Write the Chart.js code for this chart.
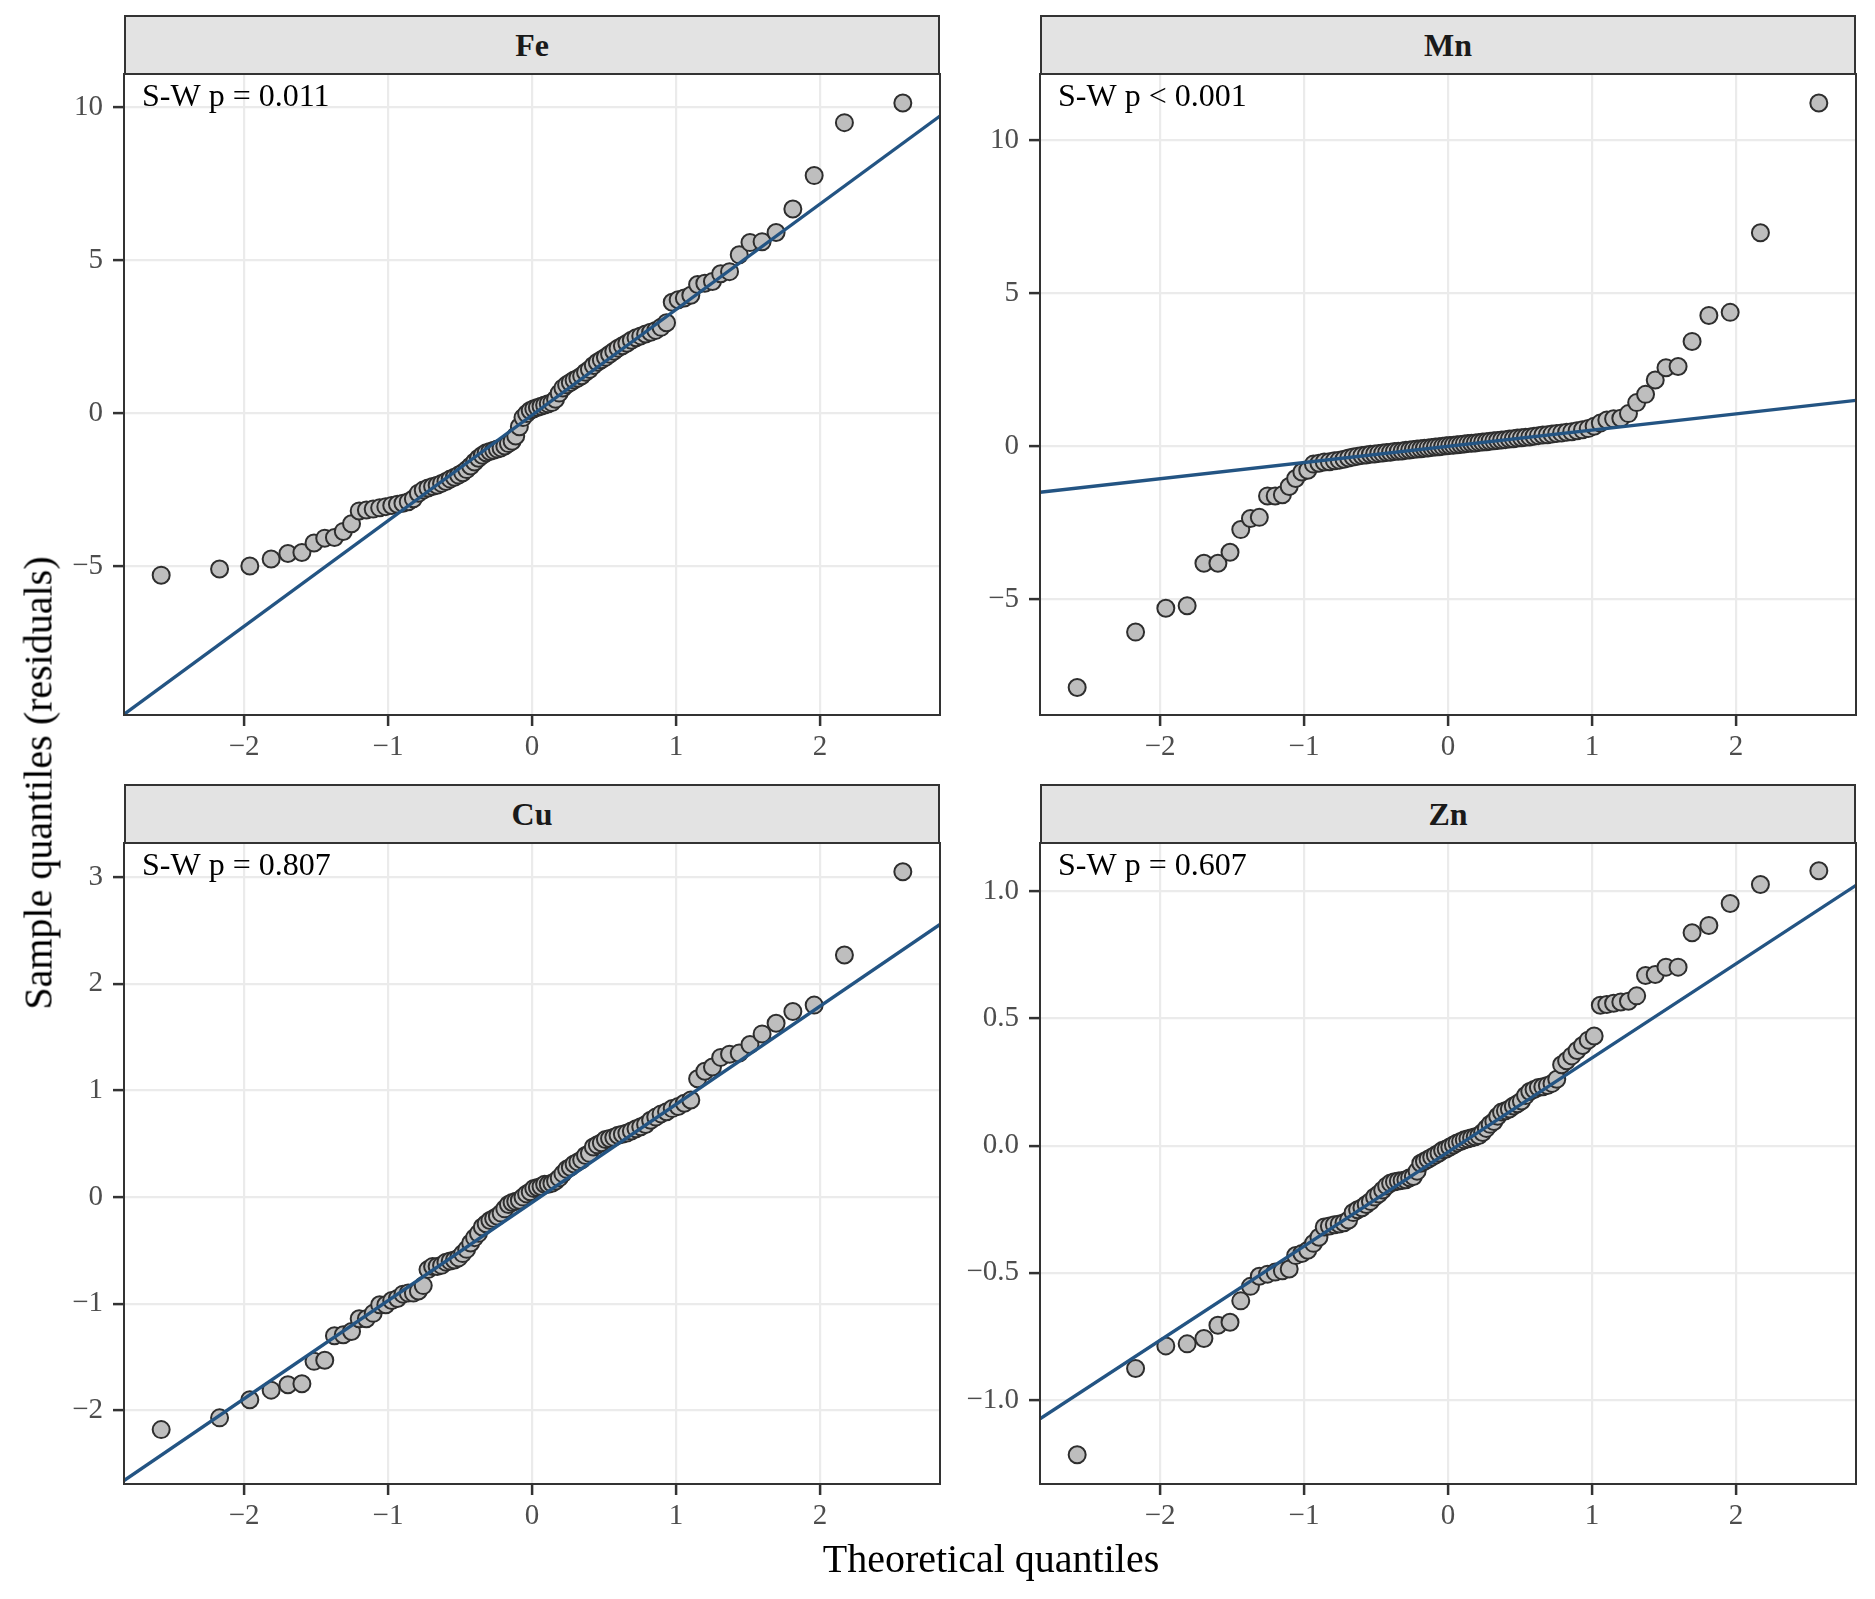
<!DOCTYPE html>
<html>
<head>
<meta charset="utf-8">
<script src="https://cdn.jsdelivr.net/npm/chart.js@4.4.1/dist/chart.umd.min.js"></script>
<style>
  body { margin: 0; background: #fff; width: 1875px; height: 1599px; position: relative; overflow: hidden;
         font-family: "Liberation Serif", "DejaVu Serif", serif; }
  .strip { position: absolute; box-sizing: border-box; border: 2px solid #333; background: #e3e3e3;
           text-align: center; font-weight: bold; font-size: 32px; color: #1a1a1a; }
  .panel { position: absolute; }
  .title { position: absolute; font-size: 40px; color: #000; white-space: nowrap; }
</style>
</head>
<body>
<div id="fig"></div>
<div class="title" style="left:991px;top:1558px;transform:translate(-50%,-50%)">Theoretical quantiles</div>
<div class="title" style="left:38px;top:783px;transform:translate(-50%,-50%) rotate(-90deg)">Sample quantiles (residuals)</div>
<script>
// theoretical normal quantiles (n = 100)
const tq = [
  -2.5758, -2.1701, -1.9600, -1.8119, -1.6954, -1.5982, -1.5141, -1.4395, -1.3722, -1.3106,
  -1.2536, -1.2004, -1.1503, -1.1031, -1.0581, -1.0152, -0.9741, -0.9346, -0.8965, -0.8596,
  -0.8239, -0.7892, -0.7554, -0.7225, -0.6903, -0.6588, -0.6280, -0.5978, -0.5681, -0.5388,
  -0.5101, -0.4817, -0.4538, -0.4261, -0.3989, -0.3719, -0.3451, -0.3186, -0.2924, -0.2663,
  -0.2404, -0.2147, -0.1891, -0.1637, -0.1383, -0.1130, -0.0878, -0.0627, -0.0376, -0.0125,
  0.0125, 0.0376, 0.0627, 0.0878, 0.1130, 0.1383, 0.1637, 0.1891, 0.2147, 0.2404,
  0.2663, 0.2924, 0.3186, 0.3451, 0.3719, 0.3989, 0.4261, 0.4538, 0.4817, 0.5101,
  0.5388, 0.5681, 0.5978, 0.6280, 0.6588, 0.6903, 0.7225, 0.7554, 0.7892, 0.8239,
  0.8596, 0.8965, 0.9346, 0.9741, 1.0152, 1.0581, 1.1031, 1.1503, 1.2004, 1.2536,
  1.3106, 1.3722, 1.4395, 1.5141, 1.5982, 1.6954, 1.8119, 1.9600, 2.1701, 2.5758
];

// sorted residuals per element
const fe = [
  -5.30, -5.10, -5.00, -4.77, -4.59, -4.56, -4.25, -4.09, -4.07, -3.87,
  -3.62, -3.20, -3.17, -3.14, -3.10, -3.06, -3.02, -2.98, -2.95, -2.90,
  -2.80, -2.62, -2.52, -2.45, -2.40, -2.36, -2.30, -2.24, -2.16, -2.10,
  -2.03, -1.95, -1.85, -1.73, -1.60, -1.48, -1.38, -1.30, -1.26, -1.22,
  -1.18, -1.14, -1.08, -1.00, -0.92, -0.75, -0.45, -0.15, -0.02, 0.08,
  0.14, 0.18, 0.22, 0.26, 0.30, 0.34, 0.45, 0.65, 0.82, 0.92,
  1.00, 1.08, 1.14, 1.22, 1.33, 1.42, 1.55, 1.66, 1.74, 1.82,
  1.92, 2.02, 2.12, 2.20, 2.28, 2.38, 2.46, 2.52, 2.58, 2.64,
  2.70, 2.80, 2.95, 3.62, 3.70, 3.76, 3.85, 4.20, 4.24, 4.30,
  4.55, 4.62, 5.17, 5.57, 5.60, 5.90, 6.67, 7.76, 9.49, 10.13
];
const mn = [
  -7.88, -6.07, -5.29, -5.21, -3.82, -3.82, -3.46, -2.72, -2.36, -2.32,
  -1.62, -1.62, -1.58, -1.31, -1.05, -0.84, -0.78, -0.58, -0.55, -0.51,
  -0.50, -0.47, -0.45, -0.42, -0.38, -0.35, -0.32, -0.30, -0.28, -0.26,
  -0.25, -0.23, -0.22, -0.20, -0.19, -0.17, -0.16, -0.15, -0.13, -0.12,
  -0.10, -0.09, -0.08, -0.06, -0.05, -0.04, -0.02, -0.01, 0.00, 0.02,
  0.03, 0.04, 0.05, 0.06, 0.08, 0.09, 0.10, 0.11, 0.13, 0.14,
  0.15, 0.17, 0.18, 0.19, 0.21, 0.22, 0.24, 0.25, 0.27, 0.28,
  0.30, 0.31, 0.33, 0.35, 0.37, 0.38, 0.40, 0.42, 0.44, 0.46,
  0.48, 0.51, 0.54, 0.58, 0.66, 0.76, 0.86, 0.90, 0.92, 1.07,
  1.43, 1.70, 2.17, 2.57, 2.61, 3.43, 4.28, 4.38, 6.98, 11.22
];
const cu = [
  -2.18, -2.07, -1.90, -1.81, -1.76, -1.75, -1.54, -1.53, -1.30, -1.29,
  -1.26, -1.14, -1.14, -1.09, -1.01, -1.01, -0.97, -0.95, -0.91, -0.90,
  -0.90, -0.88, -0.83, -0.68, -0.65, -0.65, -0.64, -0.61, -0.60, -0.59,
  -0.57, -0.53, -0.49, -0.43, -0.38, -0.34, -0.28, -0.25, -0.22, -0.20,
  -0.18, -0.15, -0.11, -0.07, -0.05, -0.04, -0.03, 0.00, 0.03, 0.05,
  0.08, 0.09, 0.10, 0.12, 0.12, 0.13, 0.15, 0.18, 0.22, 0.26,
  0.28, 0.31, 0.33, 0.35, 0.39, 0.41, 0.47, 0.49, 0.51, 0.54,
  0.55, 0.56, 0.58, 0.59, 0.60, 0.62, 0.64, 0.66, 0.68, 0.72,
  0.75, 0.78, 0.80, 0.83, 0.85, 0.88, 0.91, 1.11, 1.18, 1.22,
  1.31, 1.34, 1.35, 1.43, 1.53, 1.63, 1.74, 1.80, 2.27, 3.05
];
const zn = [
  -1.215, -0.876, -0.787, -0.779, -0.758, -0.706, -0.694, -0.610, -0.553, -0.513,
  -0.505, -0.497, -0.492, -0.485, -0.432, -0.424, -0.411, -0.384, -0.360, -0.320,
  -0.316, -0.311, -0.308, -0.303, -0.292, -0.263, -0.252, -0.244, -0.231, -0.219,
  -0.202, -0.190, -0.174, -0.158, -0.147, -0.142, -0.139, -0.137, -0.134, -0.126,
  -0.121, -0.100, -0.069, -0.061, -0.053, -0.045, -0.037, -0.029, -0.018, -0.013,
  -0.005, 0.003, 0.011, 0.016, 0.023, 0.027, 0.031, 0.035, 0.040, 0.052,
  0.068, 0.084, 0.095, 0.116, 0.132, 0.137, 0.144, 0.156, 0.165, 0.176,
  0.197, 0.213, 0.221, 0.229, 0.232, 0.237, 0.245, 0.261, 0.318, 0.334,
  0.353, 0.374, 0.394, 0.415, 0.431, 0.552, 0.555, 0.560, 0.565, 0.568,
  0.589, 0.669, 0.673, 0.702, 0.702, 0.837, 0.866, 0.952, 1.027, 1.081
];

const panelNames = ['Fe', 'Mn', 'Cu', 'Zn'];
const swLabels = ['S-W p = 0.011', 'S-W p < 0.001', 'S-W p = 0.807', 'S-W p = 0.607'];
const lineIntercepts = [-0.07, 0.0, -0.05, -0.025];
const lineSlopes = [3.45, 0.53, 0.92, 0.37];

const xTicks = [-2, -1, 0, 1, 2];
const feTicks = [-5, 0, 5, 10];
const mnTicks = [-5, 0, 5, 10];
const cuTicks = [-2, -1, 0, 1, 2, 3];
const znTicks = [-1.0, -0.5, 0.0, 0.5, 1.0];

const xRange = [-2.834, 2.834];
const yRanges = [[-9.87, 11.08], [-8.78, 12.17], [-2.69, 3.32], [-1.33, 1.19]];

const samples = [fe, mn, cu, zn];
const yTickSets = [feTicks, mnTicks, cuTicks, znTicks];
const decimals = [0, 0, 0, 1];

Chart.defaults.font.family = '"Liberation Serif", "DejaVu Serif", serif';
Chart.defaults.animation = false;

// panel frame + S-W annotation
const framePlugin = {
  id: 'frame',
  afterDatasetsDraw(chart, args, opts) {
    const { ctx, chartArea: a } = chart;
    ctx.save();
    ctx.strokeStyle = '#333';
    ctx.lineWidth = 2;
    ctx.strokeRect(a.left, a.top, a.right - a.left, a.bottom - a.top);
    ctx.fillStyle = '#000';
    ctx.font = '32px "Liberation Serif", serif';
    ctx.textBaseline = 'alphabetic';
    ctx.textAlign = 'left';
    ctx.fillText(opts.text, a.left + 18, a.top + 32);
    ctx.restore();
  }
};

function fmt(v, d) {
  return v.toFixed(d).replace('-', '\u2212');
}

const plotW = 816, plotH = 641, axisW = 100, axisH = 56, padTop = 4, padRight = 2;
const lefts = [124, 1040];
const tops = [74, 843];
const fig = document.getElementById('fig');

panelNames.forEach((name, i) => {
  const L = lefts[i % 2], T = tops[Math.floor(i / 2)];

  const strip = document.createElement('div');
  strip.className = 'strip';
  strip.style.left = L + 'px';
  strip.style.top = (T - 59) + 'px';
  strip.style.width = plotW + 'px';
  strip.style.height = '60px';
  strip.style.lineHeight = '57px';
  strip.textContent = name;
  fig.appendChild(strip);

  const cv = document.createElement('canvas');
  cv.className = 'panel';
  cv.width = axisW + plotW + padRight;
  cv.height = padTop + plotH + axisH;
  cv.style.left = (L - axisW) + 'px';
  cv.style.top = (T - padTop) + 'px';
  fig.appendChild(cv);

  const a = lineIntercepts[i], b = lineSlopes[i];
  const pts = tq.map((x, k) => ({ x: x, y: samples[i][k] }));
  const yt = yTickSets[i];

  new Chart(cv, {
    type: 'scatter',
    data: {
      datasets: [
        {
          data: [{ x: xRange[0], y: a + b * xRange[0] }, { x: xRange[1], y: a + b * xRange[1] }],
          showLine: true,
          borderColor: '#235483',
          borderWidth: 3.4,
          pointRadius: 0,
          order: 0
        },
        {
          data: pts,
          backgroundColor: '#bebebe',
          borderColor: '#2e2e2e',
          borderWidth: 2,
          pointRadius: 8.5,
          order: 1
        }
      ]
    },
    options: {
      responsive: false,
      layout: { autoPadding: false, padding: { top: padTop, right: padRight, left: 0, bottom: 0 } },
      plugins: { legend: { display: false }, tooltip: { enabled: false }, frame: { text: swLabels[i] } },
      scales: {
        x: {
          type: 'linear',
          min: xRange[0],
          max: xRange[1],
          afterBuildTicks: s => { s.ticks = xTicks.map(v => ({ value: v })); },
          afterFit: s => { s.height = axisH; s.paddingLeft = 0; s.paddingRight = 0; },
          grid: { color: '#ebebeb', lineWidth: 2.2, tickColor: '#333', tickLength: 11, tickWidth: 2.5 },
          border: { display: false },
          ticks: { font: { size: 29 }, color: '#4d4d4d', padding: 4, maxRotation: 0, autoSkip: false,
                   callback: v => fmt(v, 0) }
        },
        y: {
          type: 'linear',
          min: yRanges[i][0],
          max: yRanges[i][1],
          afterBuildTicks: s => { s.ticks = yt.map(v => ({ value: v })); },
          afterFit: s => { s.width = axisW; s.paddingTop = 0; s.paddingBottom = 0; },
          grid: { color: '#ebebeb', lineWidth: 2.2, tickColor: '#333', tickLength: 11, tickWidth: 2.5 },
          border: { display: false },
          ticks: { font: { size: 29 }, color: '#4d4d4d', padding: 10, autoSkip: false,
                   callback: v => fmt(v, decimals[i]) }
        }
      }
    },
    plugins: [framePlugin]
  });
});
</script>
</body>
</html>
